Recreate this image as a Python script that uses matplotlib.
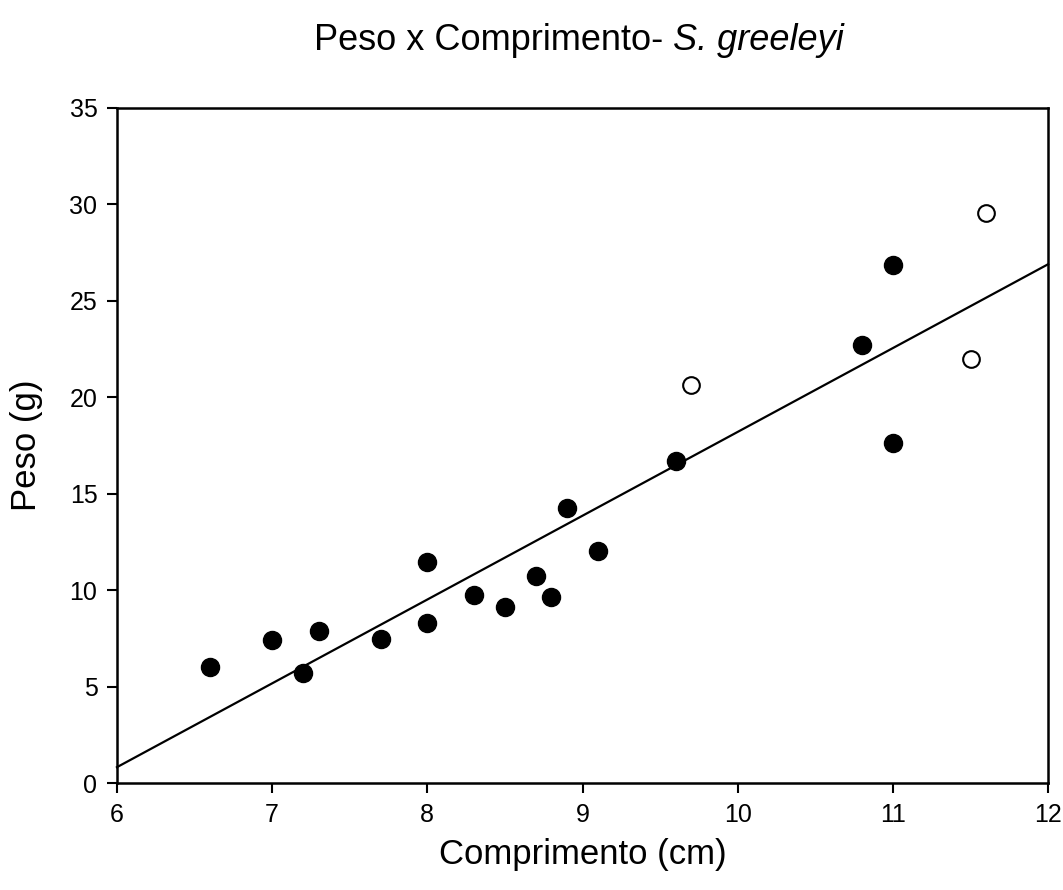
import matplotlib
matplotlib.use("Agg")
import matplotlib.pyplot as plt
from matplotlib.offsetbox import TextArea, HPacker, AnchoredOffsetbox
import numpy as np

plt.rcParams['font.family'] = ['Liberation Sans', 'DejaVu Sans']

# Filled points
comp_filled = [6.6, 7.0, 7.2, 7.3, 7.7, 8.0, 8.0, 8.3, 8.5, 8.7, 8.8, 8.9, 9.1, 9.6, 10.8, 11.0, 11.0]
peso_filled = [6.0, 7.4, 5.7, 7.9, 7.45, 11.45, 8.3, 9.75, 9.15, 10.75, 9.65, 14.25, 12.05, 16.7, 22.7, 26.85, 17.65]
# Open points
comp_open = [9.7, 11.5, 11.6]
peso_open = [20.65, 22.0, 29.55]
# Regression line
slope = 4.345
intercept = -25.24
x_range = [6, 12]

xticks = [6, 7, 8, 9, 10, 11, 12]
yticks = [0, 5, 10, 15, 20, 25, 30, 35]

fig = plt.figure(figsize=(10.63, 8.90), dpi=100)
ax = fig.add_axes([0.110, 0.120, 0.876, 0.7587])

xl = np.array(x_range, dtype=float)
ax.plot(xl, slope * xl + intercept, color='black', lw=1.6, zorder=2, clip_on=False)
ax.plot(comp_filled, peso_filled, 'o', color='black', ms=13, zorder=3, clip_on=False)
ax.plot(comp_open, peso_open, 'o', mfc='white', mec='black', mew=1.5, ms=12, zorder=3, clip_on=False)

ax.set_xlim(6, 12)
ax.set_ylim(0, 35)
ax.set_xticks(xticks)
ax.set_yticks(yticks)
ax.tick_params(direction='out', length=7, width=1.5, labelsize=18, pad=7)
for s in ax.spines.values():
    s.set_linewidth(1.8)

ax.set_xlabel('Comprimento (cm)', fontsize=25, labelpad=8)
ax.set_ylabel('Peso (g)', fontsize=25, labelpad=19)

t1 = TextArea('Peso x Comprimento-', textprops=dict(fontsize=26))
t2 = TextArea('S. greeleyi', textprops=dict(fontsize=26, style='italic'))
box = HPacker(children=[t1, t2], align='baseline', pad=0, sep=7)
title = AnchoredOffsetbox(loc='center', child=box, pad=0, borderpad=0, frameon=False,
                          bbox_to_anchor=(0.545, 0.955), bbox_transform=fig.transFigure)
fig.add_artist(title)

fig.savefig('out.png', dpi=100, facecolor='white')
